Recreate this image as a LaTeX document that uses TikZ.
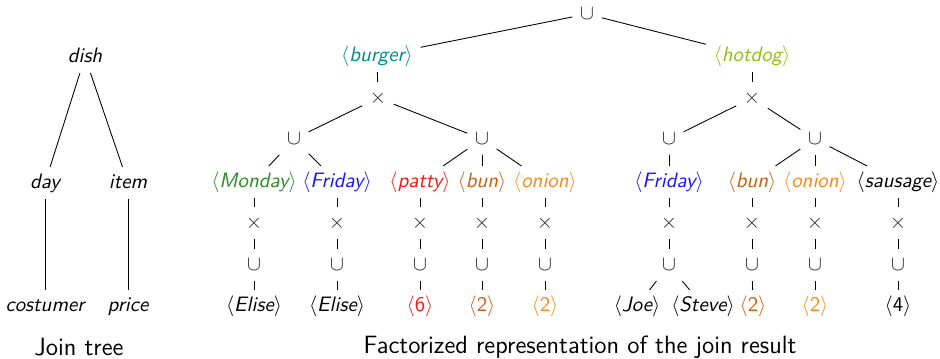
\documentclass[tikz,border=0pt]{standalone}
\usepackage{xcolor}
\definecolor{cburger}{RGB}{0,139,139}
\definecolor{chotdog}{RGB}{145,190,20}
\definecolor{cmonday}{RGB}{40,140,40}
\definecolor{cfriday}{RGB}{20,20,255}
\definecolor{cpatty}{RGB}{255,20,20}
\definecolor{cbun}{RGB}{205,95,15}
\definecolor{conion}{RGB}{255,135,20}
\newcommand{\tpl}[1]{$\langle$#1$\rangle$}
\begin{document}
\begin{tikzpicture}[x=0.48pt,y=-0.48pt,
  tn/.style={font=\sffamily\slshape, inner xsep=3pt, inner ysep=2pt,
             outer sep=0.7pt, text height=7.5pt, text depth=2.5pt},
  op/.style={tn, font=\sffamily, text=black!85},
  captext/.style={font=\sffamily\large, inner sep=0pt},
  link/.style={draw=black, line width=0.42pt}]
\useasboundingbox (0,0) rectangle (940,358);

% ---------- join tree ----------
\node[tn] (dish) at (85,57) {dish};
\node[tn] (day)  at (45,183) {day};
\node[tn] (item) at (128,183) {item};
\node[tn] (cost) at (45,306) {costumer};
\node[tn] (price) at (128,306) {price};
\draw[link] (dish) -- (day);
\draw[link] (dish) -- (item);
\draw[link] (day) -- (cost);
\draw[link] (item) -- (price);
\node[captext] (jtcap) at (79,347) {Join tree};

% ---------- factorized representation ----------
\node[op] (u0) at (587,14) {$\cup$};
\node[tn, text=cburger] (burger) at (377,56) {\tpl{burger}};
\node[tn, text=chotdog] (hotdog) at (752,56) {\tpl{hotdog}};
\node[op] (xb) at (378,98) {$\times$};
\node[op] (xh) at (752,98) {$\times$};
\node[op] (ubd) at (294,139) {$\cup$};
\node[op] (ubi) at (482,139) {$\cup$};
\node[op] (uhd) at (669,139) {$\cup$};
\node[op] (uhi) at (815,139) {$\cup$};
\draw[link] (u0) -- (burger);
\draw[link] (u0) -- (hotdog);
\draw[link] (burger) -- (xb);
\draw[link] (hotdog) -- (xh);
\draw[link] (xb) -- (ubd);
\draw[link] (xb) -- (ubi);
\draw[link] (xh) -- (uhd);
\draw[link] (xh) -- (uhi);

% second-level labels
\node[tn, text=cmonday] (mon)  at (254,182) {\tpl{Monday}};
\node[tn, text=cfriday] (fri1) at (337,182) {\tpl{Friday}};
\node[tn, text=cpatty]  (pat)  at (420,182) {\tpl{patty}};
\node[tn, text=cbun]    (bun1) at (482,182) {\tpl{bun}};
\node[tn, text=conion]  (oni1) at (545,182) {\tpl{onion}};
\node[tn, text=cfriday] (fri2) at (669,182) {\tpl{Friday}};
\node[tn, text=cbun]    (bun2) at (752,182) {\tpl{bun}};
\node[tn, text=conion]  (oni2) at (815,182) {\tpl{onion}};
\node[tn]               (sau)  at (898,182) {\tpl{sausage}};
\draw[link] (ubd) -- (mon);
\draw[link] (ubd) -- (fri1);
\draw[link] (ubi) -- (pat);
\draw[link] (ubi) -- (bun1);
\draw[link] (ubi) -- (oni1);
\draw[link] (uhd) -- (fri2);
\draw[link] (uhi) -- (bun2);
\draw[link] (uhi) -- (oni2);
\draw[link] (uhi) -- (sau);

% chains below each label
\foreach \lab/\xx in {mon/254, fri1/337, pat/420, bun1/482, oni1/545,
                      fri2/669, bun2/752, oni2/815, sau/898} {
  \node[op] (x-\lab) at (\xx,223) {$\times$};
  \node[op] (u-\lab) at (\xx,265) {$\cup$};
  \draw[link] (\lab) -- (x-\lab);
  \draw[link] (x-\lab) -- (u-\lab);
}

% leaves
\node[tn]              (l-mon)  at (254,306) {\tpl{Elise}};
\node[tn]              (l-fri1) at (337,306) {\tpl{Elise}};
\node[tn, text=cpatty] (l-pat)  at (420,306) {\tpl{\upshape 6}};
\node[tn, text=cbun]   (l-bun1) at (482,306) {\tpl{\upshape 2}};
\node[tn, text=conion] (l-oni1) at (545,306) {\tpl{\upshape 2}};
\node[tn]              (l-joe)  at (637,306) {\tpl{Joe}};
\node[tn]              (l-ste)  at (703,306) {\tpl{Steve}};
\node[tn, text=cbun]   (l-bun2) at (753,306) {\tpl{\upshape 2}};
\node[tn, text=conion] (l-oni2) at (815,306) {\tpl{\upshape 2}};
\node[tn]              (l-sau)  at (898,306) {\tpl{\upshape 4}};
\foreach \lab in {mon, fri1, pat, bun1, oni1, bun2, oni2, sau}
  \draw[link] (u-\lab) -- (l-\lab);
\draw[link] (u-fri2) -- (l-joe);
\draw[link] (u-fri2) -- (l-ste);

\node[captext] (frcap) at (580,347) {Factorized representation of the join result};
\end{tikzpicture}
\end{document}
